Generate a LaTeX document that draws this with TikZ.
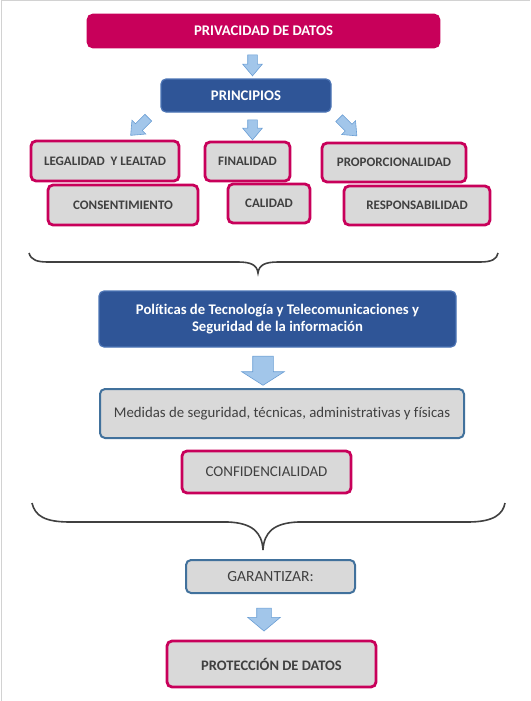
\documentclass[tikz,border=0pt]{standalone}
\usepackage{fontspec}
\setmainfont{Carlito}[Ligatures=NoCommon]
\usepackage{xcolor}
\usepackage{tikz}
\usetikzlibrary{shapes,arrows.meta,positioning}
\definecolor{crimson}{HTML}{C8005A}
\definecolor{navy}{HTML}{2F5597}
\definecolor{navyedge}{HTML}{4C74B5}
\definecolor{steel}{HTML}{41719C}
\definecolor{boxgray}{HTML}{D9D9D9}
\definecolor{txtgray}{HTML}{404040}
\definecolor{arrowfill}{HTML}{A2C6EA}
\definecolor{arrowedge}{HTML}{6A9ED4}

\begin{document}
\begin{tikzpicture}[x=1pt,y=-1pt,
    pinkbox/.style={draw=crimson, line width=2.8pt, fill=boxgray, rounded corners=5pt,
        text=txtgray, font=\fontsize{13}{15}\selectfont\bfseries, inner sep=0pt},
    steelbox/.style={draw=steel, line width=2pt, fill=boxgray, rounded corners=5pt,
        text=txtgray, font=\fontsize{14.8}{17}\selectfont, inner sep=0pt},
    bluebox/.style={draw=navyedge, line width=1.2pt, fill=navy, rounded corners=5pt,
        text=white, font=\fontsize{14.7}{17.5}\selectfont\bfseries, inner sep=0pt, align=center},
    barrow/.style={single arrow, draw=arrowedge, line width=0.6pt, fill=arrowfill,
        inner xsep=0pt, minimum width=0pt},
    brace/.style={draw=txtgray, line width=1.6pt}]
    \useasboundingbox (0,0) rectangle (530,701);
    % frame
    \draw[gray!35, line width=1pt] (1.5,701) -- (1.5,1) -- (530,1);
    % Titulo
    \node[pinkbox, fill=crimson, text=white, font=\fontsize{14.7}{17}\selectfont\bfseries, minimum width=351pt, minimum height=32pt] (priv) at (263.5,31) {PRIVACIDAD DE DATOS};
    \node[barrow, rotate=-90, inner ysep=4.5pt, single arrow head extend=5pt, single arrow tip angle=80, minimum height=21pt] (a1) at (252.5,62.5) {};
    \node[bluebox, minimum width=170pt, minimum height=33pt] (princ) at (246,95.5) {PRINCIPIOS};
    % Arrows to principles
    \node[barrow, rotate=-135, inner ysep=4.5pt, single arrow head extend=5pt, single arrow tip angle=80, minimum height=25pt] (a2) at (141.5,124.5) {};
    \node[barrow, rotate=-90, inner ysep=4.5pt, single arrow head extend=5pt, single arrow tip angle=80, minimum height=20pt] (a3) at (252.5,127) {};
    \node[barrow, rotate=-45, inner ysep=4.5pt, single arrow head extend=5pt, single arrow tip angle=80, minimum height=25pt] (a4) at (346,125) {};
    % Principles
    \node[pinkbox, minimum width=148pt, minimum height=40pt] (legal) at (105,161) {LEGALIDAD \ Y LEALTAD};
    \node[pinkbox, minimum width=85pt, minimum height=39pt] (final) at (247.5,161.5) {FINALIDAD};
    \node[pinkbox, minimum width=144pt, minimum height=39pt] (propor) at (394,162.5) {PROPORCIONALIDAD};
    \node[pinkbox, minimum width=150pt, minimum height=40pt] (consent) at (123,205) {CONSENTIMIENTO};
    \node[pinkbox, minimum width=82pt, minimum height=39pt] (calid) at (269,203.5) {CALIDAD};
    \node[pinkbox, minimum width=146pt, minimum height=39pt] (respons) at (417,205.5) {RESPONSABILIDAD};
    % Brace 1
    \draw[brace] (29,253) .. controls (31,260) and (37,262) .. (48,262) -- (238,262)
        .. controls (251,262) and (257,265) .. (258,273)
        .. controls (259,265) and (265,262) .. (278,262) -- (480,262)
        .. controls (492,262) and (497,259) .. (498,253);
    % Politicas
    \node[bluebox, minimum width=357pt, minimum height=56pt] (polit) at (277.5,319) {Políticas de Tecnología y Telecomunicaciones y\\Seguridad de la información};
    \node[barrow, rotate=-90, inner ysep=10pt, single arrow head extend=11pt, single arrow tip angle=115, minimum height=29pt] (a5) at (263,367.5) {};
    \node[steelbox, minimum width=364pt, minimum height=49pt] (medid) at (282,413.5) {Medidas de seguridad, técnicas, administrativas y físicas};
    \node[pinkbox, font=\fontsize{15}{17}\selectfont, minimum width=169pt, minimum height=42pt] (confid) at (266.5,472) {CONFIDENCIALIDAD};
    % Brace 2
    \draw[brace] (32,503) .. controls (35,516) and (45,522) .. (70,522) -- (228,522)
        .. controls (252,523) and (262,532) .. (263,550)
        .. controls (264,532) and (274,523) .. (298,522) -- (468,522)
        .. controls (494,522) and (503,514) .. (505,503);
    % Garantizar
    \node[steelbox, font=\fontsize{15.5}{17}\selectfont, minimum width=169pt, minimum height=33pt] (garant) at (270.5,576.5) {GARANTIZAR:};
    \node[barrow, rotate=-90, inner ysep=7pt, single arrow head extend=9pt, single arrow tip angle=100, minimum height=23pt] (a6) at (264,616.5) {};
    \node[pinkbox, font=\fontsize{14.5}{17}\selectfont\bfseries, minimum width=209pt, minimum height=46pt] (protec) at (271.5,664) {PROTECCIÓN DE DATOS};
\end{tikzpicture}
\end{document}
